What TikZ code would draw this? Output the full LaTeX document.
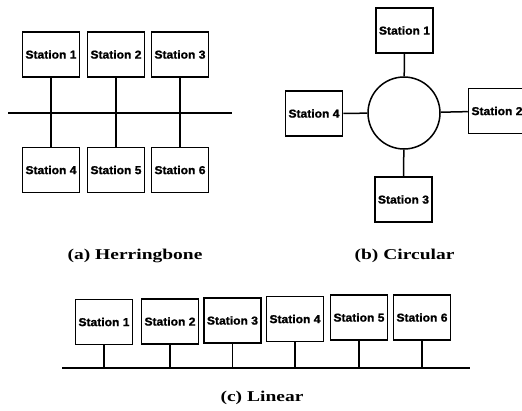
\documentclass[tikz,border=0pt]{standalone}
\usepackage{fontspec}
\usepackage{graphicx}
\setmainfont{Liberation Serif}
\newfontfamily\stfont[FakeBold=1.2]{Liberation Sans}
\tikzset{
  x=1pt, y=-1pt,
  stn/.style={draw, line width=1.5pt, rectangle, minimum width=57pt, minimum height=45pt, inner sep=0pt,
    font=\stfont\bfseries\fontsize{11.5}{14}\selectfont},
  wire/.style={line width=1.5pt},
  captext/.style={font=\bfseries\fontsize{15}{17}\selectfont, inner sep=0pt}
}
\newcommand{\stl}[1]{\scalebox{1.05}[1]{Station #1}}
\newcommand{\capt}[1]{\scalebox{1.3}[1]{#1}}
\begin{document}
\begin{tikzpicture}
\useasboundingbox (0,0) rectangle (522,410);
% (a) Herringbone
\node[stn] (h1) at (51,54.5) {\stl{1}};
\node[stn] (h2) at (116,54.5) {\stl{2}};
\node[stn] (h3) at (180,54.5) {\stl{3}};
\node[stn] (h4) at (51,170) {\stl{4}};
\node[stn] (h5) at (116,170) {\stl{5}};
\node[stn] (h6) at (180,170) {\stl{6}};
\coordinate (hl) at (8,113);
\coordinate (hr) at (232,113);
\draw[wire] (hl) -- (hr);
\draw[wire] (h1) -- (h4);
\draw[wire] (h2) -- (h5);
\draw[wire] (h3) -- (h6);
\node[captext] (capa) at (135,256) {\capt{(a) Herringbone}};
% (b) Circular
\node[draw, circle, line width=1.5pt, minimum size=72pt, inner sep=0pt] (ring) at (404,113) {};
\node[stn] (c1) at (404.5,30.5) {\stl{1}};
\node[stn] (c2) at (497,111) {\stl{2}};
\node[stn] (c3) at (403.5,199.5) {\stl{3}};
\node[stn] (c4) at (314,113.5) {\stl{4}};
\draw[wire] (c1) -- (ring);
\draw[wire] (c2) -- (ring);
\draw[wire] (c3) -- (ring);
\draw[wire] (c4) -- (ring);
\node[captext] (capb) at (404.5,256) {\capt{(b) Circular}};
% (c) Linear
\node[stn] (l1) at (104,322) {\stl{1}};
\node[stn] (l2) at (170,321.5) {\stl{2}};
\node[stn] (l3) at (232.5,320.5) {\stl{3}};
\node[stn] (l4) at (295,319) {\stl{4}};
\node[stn] (l5) at (359,317.5) {\stl{5}};
\node[stn] (l6) at (422,317.5) {\stl{6}};
\coordinate (ll) at (62,368);
\coordinate (lr) at (470,368);
\draw[wire] (ll) -- (lr);
\foreach \n in {l1,l2,l3,l4,l5,l6}
  \draw[wire] (\n.south) -- (\n.south |- ll);
\node[captext] (capc) at (262,398) {\capt{(c) Linear}};
\end{tikzpicture}
\end{document}
